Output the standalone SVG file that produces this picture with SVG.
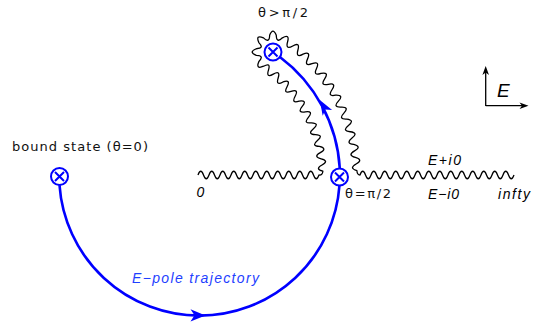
<svg xmlns="http://www.w3.org/2000/svg" width="546" height="333" viewBox="0 0 546 333">
<style>
.node{fill:none;stroke:#0000ff;stroke-width:2}
.traj{fill:none;stroke:#0000ff;stroke-width:2.6}
.head{fill:#0000ff;stroke:none}
.cut{fill:none;stroke:#000;stroke-width:1.3;stroke-linejoin:round}
.ax{fill:none;stroke:#000;stroke-width:1.3}
.axh{fill:#000}
.up{font-family:"DejaVu Sans","Liberation Sans",sans-serif;font-size:13px;fill:#111}
.it{font-family:"Liberation Sans",Arial,sans-serif;font-style:italic;font-size:14px;fill:#000}
.bl{fill:#1f3fff}
</style>
<rect width="546" height="333" fill="#fff"/>
<g id="cuts">
<path class="cut" d="M198,175 q2.75,-7.5 5.5,0 t5.5,0 t5.5,0 t5.5,0 t5.5,0 t5.5,0 t5.5,0 t5.5,0 t5.5,0 t5.5,0 t5.5,0 t5.5,0 t5.5,0 t5.5,0 t5.5,0 t5.5,0 t5.5,0 t5.5,0 t5.5,0 t5.5,0 t5.5,0 t5.5,0
Q322.5,175.5 322.87,171.2
q-8.35,-2.00 -0.8575,-6.1875 t-0.8575,-6.1875 t-0.8575,-6.1875 t-0.8575,-6.1875
q-8.58,-0.40 -2.0,-5.9175 t-2.0,-5.9175 t-2.0,-5.9175 t-2.0,-5.9175
q-8.50,1.21 -3.07,-5.44 t-3.07,-5.44 t-3.07,-5.44 t-3.07,-5.44
q-8.13,2.78 -4.035,-4.77 t-4.035,-4.77 t-4.035,-4.77 t-4.035,-4.77
q-7.46,4.25 -4.855,-3.93 t-4.855,-3.93 t-4.855,-3.93 t-4.855,-3.93
Q255.37,69.72 258.89,61.48 Q264.69,55.47 256.33,55.36 Q248.00,52.07 256.32,48.73 Q264.68,48.58 258.84,42.59 Q255.27,34.37 263.52,37.89 Q269.53,43.69 269.64,35.33 Q272.94,27.00 276.27,35.32 Q276.42,43.68 282.41,37.84
q7.52,-4.27 5.1725,4.055 t5.1725,4.055 t5.1725,4.055 t5.1725,4.055
q8.10,-3.03 4.4725,4.825 t4.4725,4.825 t4.4725,4.825 t4.4725,4.825
q8.48,-1.73 3.66,5.46 t3.66,5.46 t3.66,5.46 t3.66,5.46
q8.64,-0.37 2.755,5.9675 t2.755,5.9675 t2.755,5.9675 t2.755,5.9675
q8.59,1.00 1.785,6.335 t1.785,6.335 t1.785,6.335 t1.785,6.335
q8.33,2.33 0.77,6.5275 t0.77,6.5275 t0.77,6.5275 t0.77,6.5275
Q357.2,175 360,175
q2.75,-7.5 5.5,0 t5.5,0 t5.5,0 t5.5,0 t5.5,0 t5.5,0 t5.5,0 t5.5,0 t5.5,0 t5.5,0 t5.5,0 t5.5,0 t5.5,0 t5.5,0 t5.5,0 t5.5,0 t5.5,0 t5.5,0 t5.5,0 t5.5,0 t5.5,0 t5.5,0 t5.5,0 t5.5,0 t5.5,0 t5.5,0 t5.5,0 t5.5,0"/>
</g>
<g id="connectors">
<path class="traj" d="M59.5,185.2 A140.35,140.35 0 0 0 339.5,185.2"/>
<polygon class="head" points="205.5,315.4 190.5,309.2 194.5,315.3 190.5,321.6"/>
<path class="traj" d="M339.8,168.5 A150,150 0 0 0 279.9,57"/>
<polygon class="head" points="319.8,100 332.1,110.1 325.4,109.5 322.7,115.7"/>
</g>
<g id="node-bound">
<circle class="node" cx="59.5" cy="176.5" r="8.5"/>
<path class="node" d="M55,172 L64,181 M64,172 L55,181"/>
</g>
<g id="node-half">
<circle class="node" cx="339.5" cy="177" r="8.5"/>
<path class="node" d="M335,172.5 L344,181.5 M344,172.5 L335,181.5"/>
</g>
<g id="node-upper">
<circle class="node" cx="273" cy="52" r="8.5"/>
<path class="node" d="M268.5,47.5 L277.5,56.5 M277.5,47.5 L268.5,56.5"/>
</g>
<g id="axes">
<path class="ax" d="M485.7,106 V70 M485.7,105.7 H524"/>
<polygon class="axh" points="485.7,66 489,75 485.7,72.5 482.4,75"/>
<polygon class="axh" points="528.5,105.7 519.5,109 522,105.7 519.5,102.4"/>
</g>
<g id="labels">
<text class="up" x="258" y="16.5" textLength="50" lengthAdjust="spacing">θ&gt;π/2</text>
<text class="up" x="12" y="151" textLength="136" lengthAdjust="spacing">bound state (θ=0)</text>
<text class="up" x="345" y="198" textLength="46" lengthAdjust="spacing">θ=π/2</text>
<text class="it" x="196.5" y="196.5">0</text>
<text class="it" x="428" y="165" textLength="33" lengthAdjust="spacing">E+i0</text>
<text class="it" x="428" y="199" textLength="31" lengthAdjust="spacing">E−i0</text>
<text class="it" x="498" y="199" textLength="32" lengthAdjust="spacing">infty</text>
<text class="it bl" x="132" y="283" textLength="127" lengthAdjust="spacing">E−pole trajectory</text>
<text class="it" x="497" y="97" style="font-size:19px">E</text>
</g>
</svg>
